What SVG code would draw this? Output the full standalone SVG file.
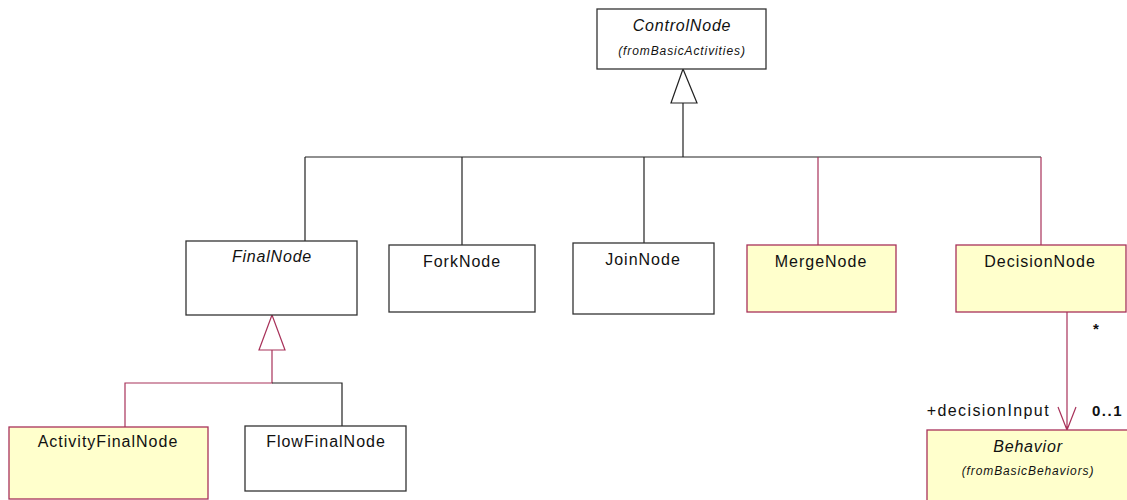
<svg xmlns="http://www.w3.org/2000/svg" width="1127" height="500" viewBox="0 0 1127 500">
<style>
text{font-family:"Liberation Sans",Arial,sans-serif;fill:#111;}
.t{font-size:16px;letter-spacing:1px;text-anchor:middle;}
.ti{font-size:16px;font-style:italic;letter-spacing:0.8px;text-anchor:middle;}
.sm{font-size:12px;font-style:italic;letter-spacing:0.9px;text-anchor:middle;}
.w{fill:#fff;stroke:#333;stroke-width:1.3;}
.y{fill:#FFFFCC;stroke:#A8325A;stroke-width:1.3;}
.bl{fill:none;stroke:#222;stroke-width:1.2;}
.cr{fill:none;stroke:#A8325A;stroke-width:1.2;}
.lbl{font-size:16px;letter-spacing:1.4px;}
</style>
<rect width="1127" height="500" fill="#fff"/>
<g id="connectors">
<path class="bl" d="M683 103V157M305 157H1041M305 157V241M462 157V245M644 157V243"/>
<path class="cr" d="M818 157V245M1041 157V245"/>
<polygon points="683,69 671,103 697,103" fill="#fff" stroke="#222" stroke-width="1.2"/>
<path class="cr" d="M272 350V383H125V427"/>
<path class="bl" d="M272 383H342V426"/>
<polygon points="272,315 259,350 285,350" fill="#fff" stroke="#A8325A" stroke-width="1.2"/>
<path class="cr" d="M1067 312V430M1058 407L1067 430L1076 407"/>
<text x="1093" y="334" style="font-size:15px;font-weight:bold">*</text>
<text x="1050" y="416" class="lbl" text-anchor="end">+decisionInput</text>
<text x="1092" y="416" style="font-size:15px;font-weight:bold;letter-spacing:1.5px">0..1</text>
</g>
<g id="ControlNode">
<rect class="w" x="597" y="9" width="169" height="60"/>
<text class="ti" x="682" y="31">ControlNode</text>
<text class="sm" x="682" y="55">(fromBasicActivities)</text>
</g>
<g id="FinalNode">
<rect class="w" x="186" y="241" width="171" height="74"/>
<text class="ti" x="272" y="262">FinalNode</text>
</g>
<g id="ForkNode">
<rect class="w" x="389" y="245" width="146" height="67"/>
<text class="t" x="462" y="267">ForkNode</text>
</g>
<g id="JoinNode">
<rect class="w" x="573" y="243" width="141" height="71"/>
<text class="t" x="643" y="265">JoinNode</text>
</g>
<g id="MergeNode">
<rect class="y" x="747" y="245" width="149" height="67"/>
<text class="t" x="821" y="267">MergeNode</text>
</g>
<g id="DecisionNode">
<rect class="y" x="956" y="245" width="170" height="67"/>
<text class="t" x="1040" y="267">DecisionNode</text>
</g>
<g id="ActivityFinalNode">
<rect class="y" x="9" y="427" width="199" height="72"/>
<text class="t" x="108" y="447">ActivityFinalNode</text>
</g>
<g id="FlowFinalNode">
<rect class="w" x="245" y="426" width="161" height="65"/>
<text class="t" x="326" y="447">FlowFinalNode</text>
</g>
<g id="Behavior">
<rect class="y" x="927" y="430" width="210" height="80"/>
<text class="ti" x="1028" y="452">Behavior</text>
<text class="sm" x="1028" y="475">(fromBasicBehaviors)</text>
</g>
</svg>
